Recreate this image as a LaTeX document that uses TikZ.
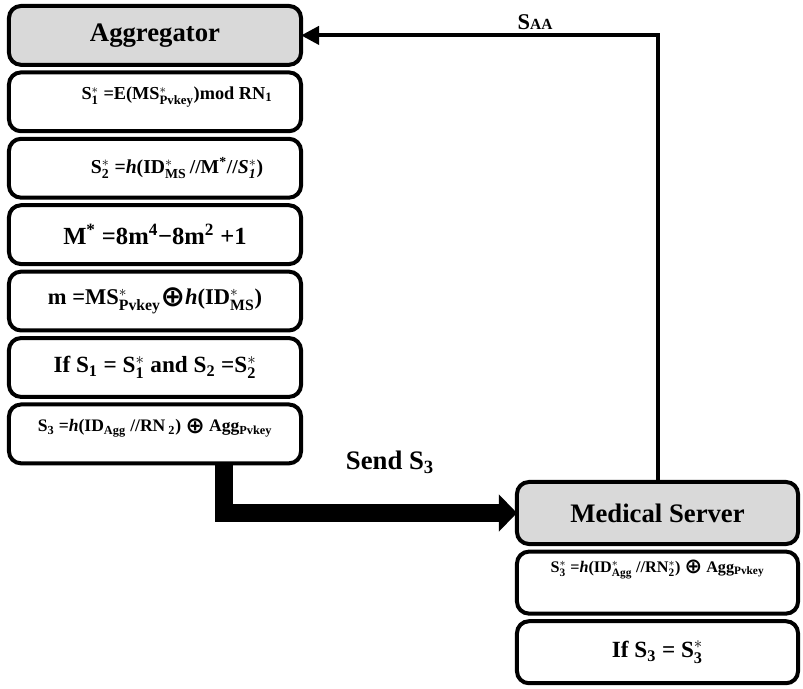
\documentclass[tikz,border=0pt]{standalone}
\usepackage{amsmath}
\usepackage{fontspec}
\setmainfont{Liberation Serif}
\newfontfamily\symfont{DejaVu Sans}
\usetikzlibrary{positioning, calc, arrows.meta}

\newcommand{\starred}[2]{#1$^{*}_{\text{#2}}$}
\newcommand{\xor}{\raisebox{-0.08em}{\scalebox{1.3}{\symfont\bfseries ⊕}}}
\newcommand{\fsz}[1]{\fontsize{#1}{#1}\selectfont\bfseries}

\begin{document}
\begin{tikzpicture}[x=0.025cm, y=-0.025cm,
    box/.style={draw, rounded corners=0.3cm, line width=0.1cm, minimum width=7.3cm,
        minimum height=1.47cm, inner sep=0pt, outer sep=0pt},
    headbox/.style={box, fill=black!15, font=\fsz{19}},
    txt/.style={inner sep=0pt, outer sep=0pt}]

\useasboundingbox (0,0) rectangle (803,689);

% Left column: aggregator
\node[headbox] (agg) at (155,35.4) {Aggregator};
\node[box, below=0.19cm of agg] (b1) {};
\node[txt, font=\fsz{13}] (t1) at ([xshift=0.55cm, yshift=0.12cm]b1.center)
    {\starred{S}{1} =E(\starred{MS}{Pvkey})mod RN\textsubscript{1}};
\node[box, below=0.19cm of b1] (b2) {};
\node[txt, font=\fsz{14}] (t2) at ([xshift=0.55cm]b2.center)
    {\starred{S}{2} =\textit{h}(\starred{ID}{MS}\,//M\textsuperscript{*}//\textit{\starred{S}{1}})};
\node[box, below=0.19cm of b2, font=\fsz{17.5}] (b3)
    {M\textsuperscript{*} =8m\textsuperscript{4}−8m\textsuperscript{2} +1};
\node[box, below=0.19cm of b3, font=\fsz{16}] (b4)
    {m =\starred{MS}{Pvkey}\xor\textit{h}(\starred{ID}{MS})};
\node[box, below=0.19cm of b4, font=\fsz{16.5}] (b5)
    {If S\textsubscript{1} = \starred{S}{1} and S\textsubscript{2} =\starred{S}{2}};
\node[box, below=0.19cm of b5] (b6) {};
\node[txt, font=\fsz{12.5}] (t6) at ([yshift=0.15cm]b6.center)
    {S\textsubscript{3} =\textit{h}(ID\textsubscript{Agg} //RN\textsubscript{ 2}) \xor{} Agg\textsubscript{Pvkey}};

% Right column: medical server
\node[headbox, minimum width=7.025cm, minimum height=1.55cm] (ms) at (657.5,513) {Medical Server};
\node[box, minimum width=7.025cm, minimum height=1.55cm, below=0.19cm of ms] (c1) {};
\node[txt, font=\fsz{11.5}] (t7) at ([yshift=0.33cm]c1.center)
    {\starred{S}{3} =\textit{h}(\starred{ID}{Agg} //\starred{RN}{2}) \xor{} Agg\textsubscript{Pvkey}};
\node[box, minimum width=7.025cm, minimum height=1.55cm, below=0.19cm of c1, font=\fsz{16.5}] (c2)
    {If S\textsubscript{3} = \starred{S}{3}};

% Connectors
\draw[line width=0.1cm, -{Triangle[length=0.45cm, width=0.45cm]}] (ms.north) |- (agg.east);
\node[txt, font=\fsz{16}] (saa) at (535,22) {S{\fontsize{11}{11}\selectfont AA}};

\draw[line width=0.45cm, -{Triangle[length=0.45cm, width=0.9cm]}]
    ([xshift=1.725cm]b6.south) |- (ms.west);
\node[txt, font=\fsz{19}] (send) at (390,462) {Send S\textsubscript{3}};

\end{tikzpicture}
\end{document}
